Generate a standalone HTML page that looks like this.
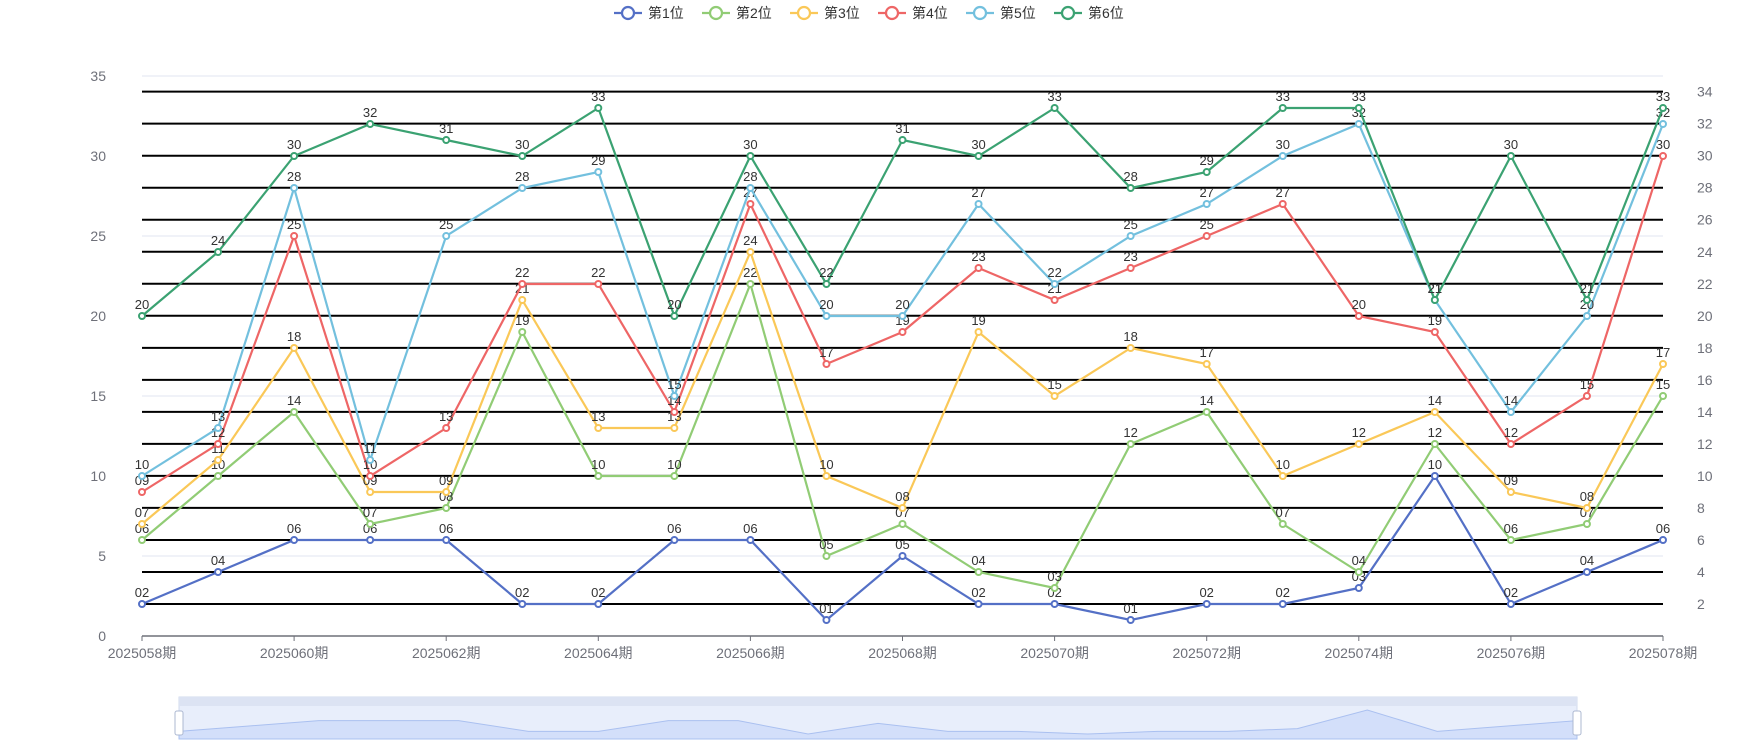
<!DOCTYPE html>
<html><head><meta charset="utf-8"><style>
body{margin:0;background:#fff;width:1750px;height:750px;overflow:hidden;font-family:"Liberation Sans","Noto Sans CJK SC",sans-serif}
</style></head><body>
<svg id="c" width="1750" height="750" font-family="Liberation Sans, Noto Sans CJK SC, sans-serif"></svg>
<script>
const categories=["2025058期","2025059期","2025060期","2025061期","2025062期","2025063期","2025064期","2025065期","2025066期","2025067期","2025068期","2025069期","2025070期","2025071期","2025072期","2025073期","2025074期","2025075期","2025076期","2025077期","2025078期"];
const seriesNames=["第1位","第2位","第3位","第4位","第5位","第6位"];
const s1=[2,4,6,6,6,2,2,6,6,1,5,2,2,1,2,2,3,10,2,4,6];
const s2=[6,10,14,7,8,19,10,10,22,5,7,4,3,12,14,7,4,12,6,7,15];
const s3=[7,11,18,9,9,21,13,13,24,10,8,19,15,18,17,10,12,14,9,8,17];
const s4=[9,12,25,10,13,22,22,14,27,17,19,23,21,23,25,27,20,19,12,15,30];
const s5=[10,13,28,11,25,28,29,15,28,20,20,27,22,25,27,30,32,21,14,20,32];
const s6=[20,24,30,32,31,30,33,20,30,22,31,30,33,28,29,33,33,21,30,21,33];
const leftTicks=[0,5,10,15,20,25,30,35];
const rightTicks=[2,4,6,8,10,12,14,16,18,20,22,24,26,28,30,32,34];
const colors=["#5470c6","#91cc75","#fac858","#ee6666","#73c0de","#3ba272"];
const series=[s1,s2,s3,s4,s5,s6];
const NS="http://www.w3.org/2000/svg";
const svg=document.getElementById('c');
const X0=142,X1=1663,Y0=636;
const x=i=>X0+i*(X1-X0)/(categories.length-1);
const y=v=>Y0-v*16;
const yr=v=>Y0-v*16.01;
function mk(t,a,p){const e=document.createElementNS(NS,t);for(const k in a)e.setAttribute(k,a[k]);(p||svg).appendChild(e);return e;}
leftTicks.forEach(v=>{
 const l=mk('line',{x1:X0,x2:X1,y1:y(v),y2:y(v),stroke:'#e0e6f1'});
 
 
 const t=mk('text',{x:X0-36,y:y(v)+5,'text-anchor':'end','font-size':14,fill:'#6e7079'});
 t.textContent=v;
 
 
});
rightTicks.forEach(v=>{
 const l=mk('line',{x1:X0,x2:X1,y1:yr(v),y2:yr(v),stroke:'#000','stroke-width':2});
 
 
 const t=mk('text',{x:X1+34,y:yr(v)+5,'text-anchor':'start','font-size':14,fill:'#6e7079'});
 t.textContent=v;
 
 
});
const ax=mk('line',{x1:X0,x2:X1,y1:Y0,y2:Y0,stroke:'#6e7079','stroke-width':1.5});


categories.forEach((c,i)=>{
 if(i%2)return;
 mk('line',{x1:x(i),x2:x(i),y1:Y0,y2:Y0+5,stroke:'#6e7079'});
 const t=mk('text',{x:x(i),y:Y0+22,'text-anchor':'middle','font-size':14,fill:'#6e7079'});
 t.textContent=c;
 
 
});
series.forEach((d,si)=>{
 const g=mk('g',{});
 
 
 const p=mk('polyline',{points:d.map((v,i)=>x(i)+','+y(v)).join(' '),fill:'none',stroke:colors[si],'stroke-width':2.2},g);
 
 
 d.forEach((v,i)=>{
  const c=mk('circle',{cx:x(i),cy:y(v),r:3,fill:'#fff',stroke:colors[si],'stroke-width':2},g);
  
  
  const t=mk('text',{x:x(i),y:y(v)-7,'text-anchor':'middle','font-size':13,fill:'#333'},g);
  t.textContent=String(v).padStart(2,'0');
  
  
 });
});
const lg=mk('g',{});


let lx=614;
seriesNames.forEach((n,si)=>{
 const g=mk('g',{},lg);
 
 
 mk('line',{x1:lx,x2:lx+28,y1:13,y2:13,stroke:colors[si],'stroke-width':2.2},g);
 mk('circle',{cx:lx+14,cy:13,r:6,fill:'#fff',stroke:colors[si],'stroke-width':2.2},g);
 const t=mk('text',{x:lx+34,y:18,'font-size':14,fill:'#333'},g);
 t.textContent=n;
 lx+=88;
});
const dz=mk('g',{});


mk('rect',{x:179,y:697,width:1398,height:42,fill:'#e8eefb',stroke:'#d2dbee'},dz);
mk('rect',{x:179,y:697,width:1398,height:9,fill:'#dce3f3'},dz);
const sx=i=>179+i*1398/(categories.length-1);
const mn=Math.min(...s1),mx=Math.max(...s1);
const sy=v=>734-(v-mn)/(mx-mn)*24;
let pts=s1.map((v,i)=>sx(i)+','+sy(v)).join(' ');
mk('polygon',{points:sx(0)+',739 '+pts+' '+sx(20)+',739',fill:'#d3dffa',stroke:'#aac0f0'},dz);
const h1=mk('rect',{x:175,y:711,width:8,height:24,rx:2,fill:'#fff',stroke:'#acb8d1'},dz);


const h2=mk('rect',{x:1573,y:711,width:8,height:24,rx:2,fill:'#fff',stroke:'#acb8d1'},dz);


</script>
</body></html>
